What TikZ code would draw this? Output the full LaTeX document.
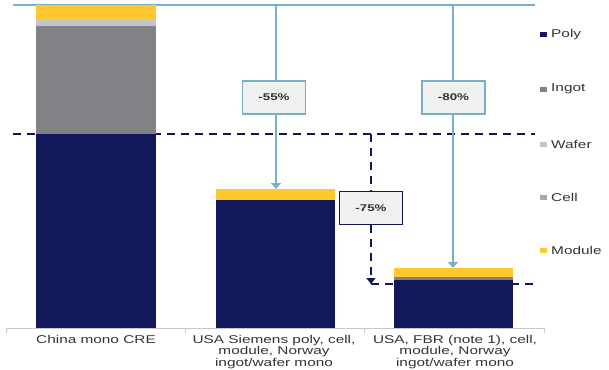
\documentclass[tikz,border=0pt]{standalone}
\usepackage{fontspec}
\setmainfont{Liberation Sans}
\usepackage{graphicx}
\usetikzlibrary{arrows.meta}
\definecolor{navy}{HTML}{12185A}
\definecolor{gold}{HTML}{FFC82E}
\definecolor{ingot}{HTML}{808285}
\definecolor{wafer}{HTML}{C4C4C4}
\definecolor{cellc}{HTML}{A8A8A8}
\definecolor{sky}{HTML}{7AAFCB}
\definecolor{boxfill}{HTML}{F0F0F0}
\definecolor{axisc}{HTML}{C8C8C8}
\definecolor{txt}{HTML}{333333}
\newcommand\sx[1]{\scalebox{1.36}[1]{#1}}
\begin{document}
\begin{tikzpicture}[x=1pt,y=-1pt,
  pct/.style={fill=boxfill, line width=1.5pt, minimum width=63pt, minimum height=33pt,
    inner sep=0pt, font=\fontsize{9.8}{11}\selectfont\bfseries, text=txt},
  skybox/.style={pct, draw=sky},
  navybox/.style={pct, draw=navy},
  skyarrow/.style={draw=sky, line width=2pt, -{Triangle[width=10pt,length=6pt]}},
  skyline/.style={draw=sky, line width=2pt},
  navydash/.style={draw=navy, line width=2pt, dash pattern=on 8pt off 6pt},
  navyarrow/.style={navydash, -{Triangle[width=9pt,length=6pt]}},
  cat/.style={anchor=north, align=center, inner sep=0pt, text=txt,
    font=\fontsize{11.3}{11.6}\selectfont},
  leg/.style={anchor=west, inner sep=0pt, text=txt, font=\fontsize{11.3}{13}\selectfont},
  axisline/.style={draw=axisc, line width=1pt}]
\useasboundingbox (0,0) rectangle (609,369);

% reference lines
\coordinate (topL) at (13,5);
\coordinate (topR) at (535,5);
\coordinate (dashL) at (13,134);
\coordinate (dashR) at (535,134);
\coordinate (lowL) at (371,284);
\coordinate (lowR) at (535,284);
\draw[skyline] (topL) -- (topR);
\draw[navydash] (dashL) -- (dashR);
\draw[navydash] (lowL) -- (lowR);

% bar 1
\fill[gold] (36,5.5) rectangle (156,19.3);
\fill[wafer] (36,19.3) rectangle (156,26);
\fill[ingot] (36,26) rectangle (156,133.5);
\fill[navy] (36,133.5) rectangle (156,328);
% bar 2
\fill[gold] (216,189) rectangle (335,200);
\fill[navy] (216,200) rectangle (335,328);
% bar 3
\fill[gold] (394,268) rectangle (513,277);
\fill[ingot] (394,277) rectangle (513,280);
\fill[navy] (394,280) rectangle (513,328);

\coordinate (bar2top) at (276,189);
\coordinate (bar3top) at (453,268);
\coordinate (top55) at (276,5);
\coordinate (top80) at (453,5);
\coordinate (dash75) at (371,134);

% percentage boxes
\node[skybox] (b55) at (274,97.5) {\sx{-55\%}};
\node[skybox] (b80) at (453.5,97.5) {\sx{-80\%}};
\node[navybox] (b75) at (371,208) {\sx{-75\%}};

% connectors
\draw[skyline] (top55) -- (top55 |- b55.north);
\draw[skyarrow] (bar2top |- b55.south) -- (bar2top);
\draw[skyline] (top80) -- (top80 |- b80.north);
\draw[skyarrow] (bar3top |- b80.south) -- (bar3top);
\draw[navydash] (dash75) -- (b75.north);
\draw[navyarrow] (b75.south) -- (lowL);

% axis
\draw[axisline] (6,328) -- (544,328);
\foreach \x in {6,185,364,544} \draw[axisline] (\x,328) -- (\x,333);

% category labels
\node[cat] (c1) at (96,335) {\sx{China mono CRE}};
\node[cat] (c2) at (274,335) {\sx{USA Siemens poly, cell,}\\\sx{module, Norway}\\\sx{ingot/wafer mono}};
\node[cat] (c3) at (455,335) {\sx{USA, FBR (note 1), cell,}\\\sx{module, Norway}\\\sx{ingot/wafer mono}};

% legend
\fill[navy] (540,32.5) rectangle (547,37.5);
\node[leg] (l1) at (551,35) {\sx{Poly}};
\fill[ingot] (540,86.5) rectangle (547,91.5);
\node[leg] (l2) at (551,89) {\sx{Ingot}};
\fill[wafer] (540,141.5) rectangle (547,146.5);
\node[leg] (l3) at (551,144) {\sx{Wafer}};
\fill[cellc] (540,194.5) rectangle (547,199.5);
\node[leg] (l4) at (551,197) {\sx{Cell}};
\fill[gold] (540,247.5) rectangle (547,252.5);
\node[leg] (l5) at (551,250) {\sx{Module}};
\end{tikzpicture}
\end{document}
